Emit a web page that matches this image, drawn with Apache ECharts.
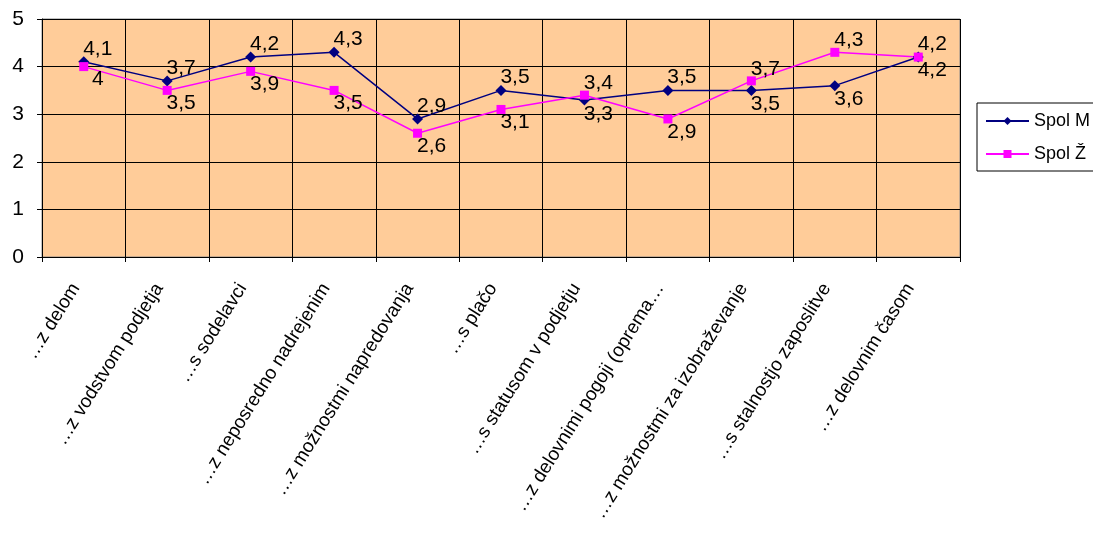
<!DOCTYPE html>
<html>
<head>
<meta charset="utf-8">
<script src="https://cdn.jsdelivr.net/npm/echarts@6/dist/echarts.min.js"></script>
<style>
  html, body {margin: 0; padding: 0; background: #fff;}
  #chart {width: 1093px; height: 534px;}
</style>
</head>
<body>
<div id="chart"></div>
<script>
const categories = [
  '…z delom', '…z vodstvom podjetja', '…s sodelavci', '…z neposredno nadrejenim',
  '…z možnostmi napredovanja', '…s plačo', '…s statusom v podjetju',
  '…z delovnimi pogoji (oprema…', '…z možnostmi za izobraževanje',
  '…s stalnostjo zaposlitve', '…z delovnim časom'
];
const spolM = [4.1, 3.7, 4.2, 4.3, 2.9, 3.5, 3.3, 3.5, 3.5, 3.6, 4.2];
const spolZ = [4.0, 3.5, 3.9, 3.5, 2.6, 3.1, 3.4, 2.9, 3.7, 4.3, 4.2];
const yTicks = [0, 1, 2, 3, 4, 5];

const font = 'Liberation Sans, Arial, sans-serif';

// label goes above the point for the higher series, below for the lower one
function withLabels(values, other, winsTie) {
  return values.map((v, i) => {
    const above = v > other[i] || (v === other[i] && winsTie);
    return {
      value: v,
      label: above
        ? {position: 'top', offset: [14, 5]}
        : {position: 'bottom', offset: [14, -4]}
    };
  });
}

const chart = echarts.init(document.getElementById('chart'));
chart.setOption({
  animation: false,
  backgroundColor: '#fff',
  textStyle: {fontFamily: font},
  grid: {
    left: 42, right: 133, top: 19, bottom: 277,
    show: true, backgroundColor: '#FFCC99', borderColor: '#888', borderWidth: 1
  },
  legend: {
    orient: 'vertical',
    left: 977, top: 103,
    padding: [9, 20, 8, 8],
    itemGap: 15,
    itemWidth: 43, itemHeight: 10,
    borderColor: '#000', borderWidth: 1,
    textStyle: {fontSize: 18, color: '#000', fontFamily: font},
    data: ['Spol M', 'Spol Ž']
  },
  xAxis: {
    type: 'category',
    data: categories,
    boundaryGap: true,
    axisLine: {lineStyle: {color: '#000', width: 1}},
    axisTick: {show: true, length: 5, lineStyle: {color: '#000'}},
    splitLine: {show: true, lineStyle: {color: '#000', width: 1}},
    axisLabel: {
      interval: 0, rotate: 58, margin: 33, verticalAlign: 'bottom',
      fontSize: 19, color: '#000', fontFamily: font
    }
  },
  yAxis: {
    type: 'value',
    min: yTicks[0], max: yTicks[yTicks.length - 1], interval: 1,
    axisLine: {show: true, lineStyle: {color: '#000', width: 1}},
    axisTick: {show: true, length: 5, lineStyle: {color: '#000'}},
    splitLine: {show: true, lineStyle: {color: '#000', width: 1}},
    axisLabel: {fontSize: 21, color: '#000', margin: 18, fontFamily: font}
  },
  series: [
    {
      name: 'Spol M',
      type: 'line',
      data: withLabels(spolM, spolZ, true),
      symbol: 'diamond', symbolSize: 11,
      color: '#000080',
      lineStyle: {width: 1.5, color: '#000080'},
      itemStyle: {color: '#000080'}
    },
    {
      name: 'Spol Ž',
      type: 'line',
      data: withLabels(spolZ, spolM, false),
      symbol: 'rect', symbolSize: 9,
      color: '#FF00FF',
      lineStyle: {width: 1.5, color: '#FF00FF'},
      itemStyle: {color: '#FF00FF'}
    }
  ].map(s => ({
    ...s,
    label: {
      show: true, fontSize: 21, color: '#000', fontFamily: font, distance: 2,
      formatter: p => String(p.value).replace('.', ',')
    }
  }))
});
</script>
</body>
</html>
